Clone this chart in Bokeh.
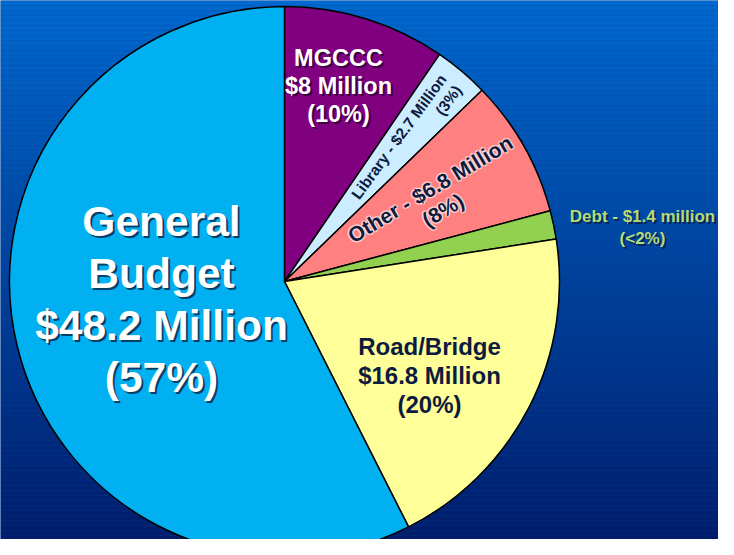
import numpy as np
from bokeh.plotting import figure
from bokeh.models import Range1d
from bokeh.core.properties import value
from bokeh.embed import file_html
from bokeh.resources import INLINE

# ---------------- data ----------------
categories = ["MGCCC", "Library", "Other", "Debt", "Road/Bridge", "General Budget"]
amounts_musd = [8.0, 2.7, 6.8, 1.4, 16.8, 48.2]
percent_labels = ["10%", "3%", "8%", "<2%", "20%", "57%"]
slice_colors = ["#800080", "#CCECFF", "#FF8080", "#92D050", "#FFFF99", "#00B0F0"]

# ---------------- layout (reference pixel space, y down) ----------------
W_PAGE, H_PAGE = 734, 555
M = 8
FW, FH = W_PAGE - 2 * M, H_PAGE - 2 * M
CX, CY, R = 284.0, 281.0, 275.0
FONT = value("Liberation Sans")


def Y(ypix):
    return H_PAGE - ypix


p = figure(width=FW, height=FH,
           x_range=Range1d(0, FW), y_range=Range1d(H_PAGE - FH, H_PAGE),
           output_backend="svg", toolbar_location=None,
           x_axis_location=None, y_axis_location=None,
           min_border=0, outline_line_color=None)
p.grid.visible = False
p.background_fill_color = "#00429A"
p.border_fill_color = "#00429A"

# background gradient (top bright blue -> bottom navy)
top_rgb = np.array([0, 104, 206])
bot_rgb = np.array([0, 26, 104])
n_strips = 111
edges = np.linspace(0, H_PAGE, n_strips + 1)
cols = []
for i in range(n_strips):
    t = (i + 0.5) / n_strips
    c = (1 - t) * top_rgb + t * bot_rgb
    cols.append("#%02x%02x%02x" % tuple(int(round(v)) for v in c))
p.quad(left=0, right=W_PAGE, top=[Y(e) for e in edges[:-1]], bottom=[Y(e) for e in edges[1:]],
       fill_color=cols, line_color=None)

# ---------------- pie ----------------
vals = np.array(amounts_musd)
frac = vals / vals.sum()
cum = np.concatenate([[0.0], np.cumsum(frac)])
start = np.pi / 2 - 2 * np.pi * cum[:-1]
end = np.pi / 2 - 2 * np.pi * cum[1:]
p.wedge(x=CX, y=Y(CY), radius=R, start_angle=start, end_angle=end, direction="clock",
        fill_color=slice_colors, line_color="black", line_width=1.5)


# ---------------- labels ----------------
def label(xp, yp, txt, size, color, align="center", angle_deg=0.0, lh=1.1,
          shadow=None, glow=None):
    kw = dict(text_font=FONT, text_font_style="bold", text_font_size="%gpx" % size,
              text_align=align, text_baseline="middle", text_line_height=lh,
              angle=np.deg2rad(angle_deg))
    if glow is not None:
        for dx, dy in [(-1.5, 0), (1.5, 0), (0, -1.5), (0, 1.5), (-1.2, -1.2), (1.2, 1.2), (-1.2, 1.2), (1.2, -1.2)]:
            p.text(x=[xp + dx], y=[Y(yp + dy)], text=[txt], text_color=glow, text_alpha=0.45, **kw)
    if shadow is not None:
        p.text(x=[xp + 2], y=[Y(yp + 2)], text=[txt], text_color=shadow, text_alpha=0.75, **kw)
    p.text(x=[xp], y=[Y(yp)], text=[txt], text_color=color, **kw)


dark = "#0D1B3E"
label(161, 299, "General\nBudget\n$48.2 Million\n(%s)" % percent_labels[5], 42.5, "white",
      lh=1.1, shadow="#0a1a3a")
label(338, 85.5, "MGCCC\n$8 Million\n(%s)" % percent_labels[0], 23.5, "white", lh=1.08,
      shadow="#2a0030")
label(429, 375, "Road/Bridge\n$16.8 Million\n(%s)" % percent_labels[4], 24, dark, lh=1.08)
label(642, 227, "Debt - $1.4 million\n(%s)" % percent_labels[3], 17, "#B4DB78", lh=1.2,
      shadow="#0a1a40")
label(450, 81, "Library - $2.7 Million\n(%s)" % percent_labels[1], 15.5, dark, align="right",
      angle_deg=54, lh=1.1)
label(436, 199, "Other - $6.8 Million\n(%s)" % percent_labels[2], 21, dark, angle_deg=31,
      lh=1.07, glow="#FFE8E8")

open("out.html", "w").write(file_html(p, INLINE))
